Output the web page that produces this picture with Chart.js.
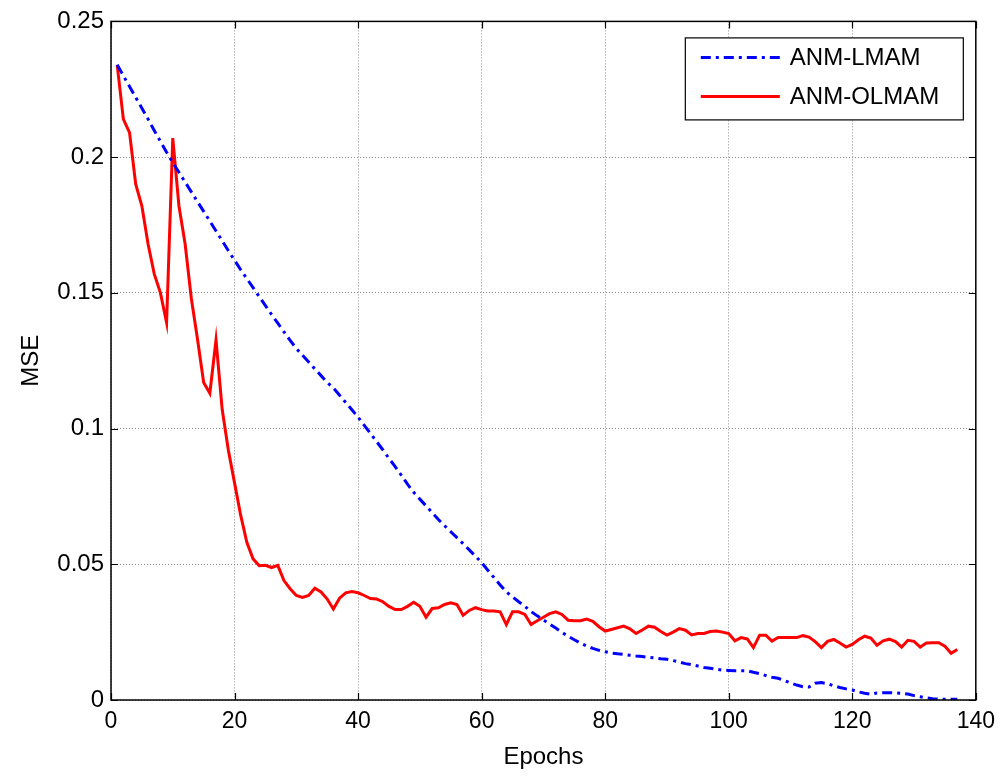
<!DOCTYPE html>
<html>
<head>
<meta charset="utf-8">
<script src="https://cdn.jsdelivr.net/npm/chart.js@4.4.1/dist/chart.umd.min.js"></script>
<style>
  html, body { margin: 0; padding: 0; background: #fff; }
  #wrap { width: 1003px; height: 776px; position: relative; }
</style>
</head>
<body>
<div id="wrap"><canvas id="c" width="1003" height="776"></canvas></div>
<script>
// Training epochs (x axis)
const epochs = Array.from({ length: 137 }, (_, i) => i + 1);

// MSE per epoch, ANM-LMAM
const lmam = [
  0.234, 0.230, 0.226, 0.222, 0.218, 0.214, 0.2098, 0.2058, 0.2018, 0.1980,
  0.1944, 0.1908, 0.1872, 0.1836, 0.1800, 0.1764, 0.1728, 0.1692, 0.1655, 0.1620,
  0.1585, 0.1552, 0.1519, 0.1486, 0.1453, 0.1420, 0.1388, 0.1356, 0.1325, 0.1295,
  0.1270, 0.1245, 0.1220, 0.1195, 0.1170, 0.1150, 0.1123, 0.1096, 0.1069, 0.1042,
  0.1012, 0.0982, 0.0952, 0.0922, 0.0890, 0.0860, 0.0828, 0.0795, 0.0765, 0.0740,
  0.0715, 0.0690, 0.0665, 0.0642, 0.0620, 0.0598, 0.0576, 0.0553, 0.0530, 0.0506,
  0.0478, 0.0451, 0.0424, 0.0398, 0.0380, 0.0362, 0.0345, 0.0326, 0.0310, 0.0295,
  0.0280, 0.0265, 0.0249, 0.0235, 0.0222, 0.0210, 0.0199, 0.0190, 0.0183, 0.0178,
  0.0173, 0.0170, 0.0168, 0.0165, 0.0162, 0.0160, 0.0157, 0.0155, 0.0152, 0.0150,
  0.0145, 0.0140, 0.0134, 0.0130, 0.0125, 0.0120, 0.0117, 0.0113, 0.0110, 0.0109,
  0.0108, 0.0108, 0.0108, 0.0102, 0.0097, 0.0090, 0.0084, 0.0080, 0.0072, 0.0063,
  0.0055, 0.0049, 0.0048, 0.0062, 0.0064, 0.0060, 0.0052, 0.0046, 0.0041, 0.0037,
  0.0030, 0.0025, 0.0021, 0.0026, 0.0027, 0.0027, 0.0026, 0.0025, 0.0022, 0.0016,
  0.0012, 0.0008, 0.0005, 0.0003, 0.0003, 0.0003, 0.0003
];

// MSE per epoch, ANM-OLMAM
const olmam = [
  0.234, 0.214, 0.209, 0.190, 0.182, 0.168, 0.157, 0.150, 0.139, 0.207,
  0.182, 0.168, 0.148, 0.133, 0.117, 0.113, 0.1326, 0.107, 0.092, 0.080,
  0.068, 0.058, 0.052, 0.0495, 0.0496, 0.0488, 0.0496, 0.0440, 0.0410, 0.0385,
  0.0378, 0.0385, 0.0412, 0.0398, 0.0372, 0.0335, 0.0375, 0.0395, 0.0400, 0.0395,
  0.0385, 0.0374, 0.0372, 0.0362, 0.0345, 0.0333, 0.0333, 0.0345, 0.0360, 0.0345,
  0.0305, 0.0337, 0.0340, 0.0352, 0.0358, 0.0352, 0.0312, 0.0330, 0.0340, 0.0333,
  0.0328, 0.0328, 0.0325, 0.0278, 0.0325, 0.0325, 0.0315, 0.0278, 0.0292, 0.0305,
  0.0318, 0.0325, 0.0315, 0.0294, 0.0292, 0.0292, 0.0298, 0.0290, 0.0270, 0.0254,
  0.0260, 0.0266, 0.0272, 0.0262, 0.0245, 0.0258, 0.0272, 0.0268, 0.0252, 0.0239,
  0.0250, 0.0263, 0.0257, 0.0240, 0.0245, 0.0245, 0.0252, 0.0254, 0.0250, 0.0245,
  0.0218, 0.0230, 0.0225, 0.0193, 0.0239, 0.0239, 0.0217, 0.0230, 0.0230, 0.0230,
  0.0230, 0.0237, 0.0232, 0.0215, 0.0193, 0.0216, 0.0223, 0.0210, 0.0195, 0.0205,
  0.0222, 0.0235, 0.0228, 0.0202, 0.0218, 0.0224, 0.0215, 0.0195, 0.0220, 0.0216,
  0.0195, 0.0210, 0.0211, 0.0211, 0.0198, 0.0172, 0.0186
];

const seriesNames = ['ANM-LMAM', 'ANM-OLMAM'];
const xTicks = [0, 20, 40, 60, 80, 100, 120, 140];
const yTicks = [0, 0.05, 0.1, 0.15, 0.2, 0.25];

const FONT = 'Arial, "Liberation Sans", sans-serif';
const DASHDOT = [10, 5, 3, 5];

// Box frame, inward tick marks on all four sides, and the in-plot legend
const framePlugin = {
  id: 'frame',
  afterDatasetsDraw(chart) {
    const { ctx, chartArea: a, scales } = chart;
    ctx.save();
    ctx.strokeStyle = '#000';
    ctx.lineWidth = 1.5;
    ctx.strokeRect(a.left, a.top, a.right - a.left, a.bottom - a.top);
    const len = 7;
    ctx.lineWidth = 1.2;
    ctx.beginPath();
    xTicks.forEach(v => {
      const x = Math.round(scales.x.getPixelForValue(v)) + 0.5;
      ctx.moveTo(x, a.bottom); ctx.lineTo(x, a.bottom - len);
      ctx.moveTo(x, a.top); ctx.lineTo(x, a.top + len);
    });
    yTicks.forEach(v => {
      const y = Math.round(scales.y.getPixelForValue(v)) + 0.5;
      ctx.moveTo(a.left, y); ctx.lineTo(a.left + len, y);
      ctx.moveTo(a.right, y); ctx.lineTo(a.right - len, y);
    });
    ctx.stroke();

    // legend
    const bw = 278, bh = 82;
    const bx = a.right - 13 - bw, by = a.top + 16;
    ctx.fillStyle = '#fff';
    ctx.fillRect(bx, by, bw, bh);
    ctx.strokeStyle = '#000';
    ctx.lineWidth = 1.2;
    ctx.strokeRect(bx + 0.5, by + 0.5, bw, bh);
    ctx.font = '24px ' + FONT;
    ctx.textBaseline = 'middle';
    chart.data.datasets.forEach((ds, i) => {
      const cy = by + 20 + i * 39;
      ctx.save();
      ctx.strokeStyle = ds.borderColor;
      ctx.lineWidth = ds.borderWidth;
      ctx.setLineDash(ds.borderDash || []);
      ctx.beginPath();
      ctx.moveTo(bx + 16, cy); ctx.lineTo(bx + 95, cy);
      ctx.stroke();
      ctx.restore();
      ctx.fillStyle = '#000';
      ctx.fillText(ds.label, bx + 105, cy + 1);
    });
    ctx.restore();
  }
};

new Chart(document.getElementById('c'), {
  type: 'line',
  data: {
    labels: epochs,
    datasets: [
      {
        label: seriesNames[0],
        data: lmam,
        borderColor: '#0000ff',
        borderWidth: 3,
        borderDash: DASHDOT,
        pointRadius: 0,
        tension: 0,
        fill: false
      },
      {
        label: seriesNames[1],
        data: olmam,
        borderColor: '#ff0000',
        borderWidth: 3,
        pointRadius: 0,
        tension: 0,
        fill: false
      }
    ]
  },
  options: {
    responsive: false,
    animation: false,
    devicePixelRatio: 1,
    layout: { padding: { left: 0, right: 22, top: 19, bottom: 0 } },
    plugins: { legend: { display: false }, tooltip: { enabled: false } },
    scales: {
      x: {
        type: 'linear',
        min: 0, max: 140,
        afterBuildTicks(s) { s.ticks = xTicks.map(v => ({ value: v })); },
        afterFit(s) { s.height = 76; },
        grid: { color: '#8c8c8c', lineWidth: 1, drawTicks: false },
        border: { display: false, dash: [1, 2] },
        ticks: { color: '#000', font: { size: 23, family: FONT }, padding: 8, maxRotation: 0 },
        title: { display: true, text: 'Epochs', color: '#000', font: { size: 24, family: FONT }, padding: { top: 0, bottom: 4 } }
      },
      y: {
        min: 0, max: 0.25,
        afterBuildTicks(s) { s.ticks = yTicks.map(v => ({ value: v })); },
        afterFit(s) { s.width = 111; },
        grid: { color: '#8c8c8c', lineWidth: 1, drawTicks: false },
        border: { display: false, dash: [1, 2] },
        ticks: { color: '#000', font: { size: 24, family: FONT }, padding: 7, callback: v => String(+v.toFixed(2)) },
        title: { display: true, text: 'MSE', color: '#000', font: { size: 24, family: FONT }, padding: { top: 17, bottom: 0 } }
      }
    }
  },
  plugins: [framePlugin]
});
</script>
</body>
</html>
